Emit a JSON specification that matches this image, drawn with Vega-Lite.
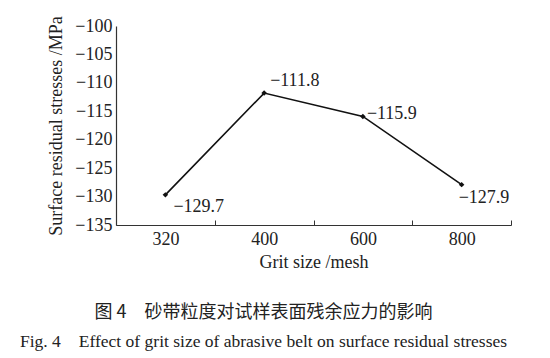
{
  "$schema": "https://vega.github.io/schema/vega-lite/v6.json",
  "width": 395,
  "height": 199,
  "autosize": {"type": "none"},
  "padding": {"left": 116, "top": 26, "right": 39, "bottom": 133},
  "background": "white",
  "data": {"values": [
    {"grit": "320", "stress": -129.7},
    {"grit": "400", "stress": -111.8},
    {"grit": "600", "stress": -115.9},
    {"grit": "800", "stress": -127.9}
  ]},
  "title": {
    "text": "图 4　砂带粒度对试样表面残余应力的影响",
    "subtitle": "Fig. 4　Effect of grit size of abrasive belt on surface residual stresses",
    "orient": "bottom",
    "anchor": "middle",
    "dx": -50,
    "offset": 33,
    "font": "Noto Sans CJK SC",
    "fontSize": 18,
    "fontWeight": "normal",
    "color": "#222",
    "subtitleFont": "Liberation Serif",
    "subtitleFontSize": 17.5,
    "subtitleColor": "#222",
    "subtitlePadding": 11
  },
  "config": {
    "view": {"stroke": null},
    "font": "Liberation Serif",
    "axis": {
      "labelFont": "Liberation Serif",
      "titleFont": "Liberation Serif",
      "labelFontSize": 18,
      "titleFontSize": 18,
      "titleFontWeight": "normal",
      "labelColor": "#222",
      "titleColor": "#222",
      "domainColor": "#333",
      "tickColor": "#333",
      "grid": false
    },
    "text": {"font": "Liberation Serif"}
  },
  "encoding": {
    "x": {
      "field": "grit",
      "type": "ordinal",
      "sort": ["320", "400", "600", "800"],
      "scale": {"type": "band", "paddingInner": 0, "paddingOuter": 0},
      "axis": {
        "title": "Grit size /mesh",
        "labelAngle": 0,
        "tickBand": "extent",
        "tickSize": -5,
        "labelPadding": 10,
        "titlePadding": 5,
        "domainWidth": 1.2
      }
    },
    "y": {
      "field": "stress",
      "type": "quantitative",
      "scale": {"domain": [-135, -100], "nice": false, "zero": false},
      "axis": {
        "title": "Surface residual stresses /MPa",
        "values": [-135, -130, -125, -120, -115, -110, -105, -100],
        "ticks": false,
        "labelPadding": 4,
        "titlePadding": 9,
        "domainWidth": 1.2
      }
    }
  },
  "layer": [
    {"mark": {"type": "line", "color": "#111", "strokeWidth": 1.6}},
    {"mark": {"type": "point", "shape": "diamond", "filled": true, "color": "#111", "size": 30, "opacity": 1}},
    {
      "transform": [{"filter": "datum.grit == '320'"}],
      "mark": {"type": "text", "align": "left", "baseline": "middle", "dx": 8, "dy": 12, "fontSize": 18, "color": "#222"},
      "encoding": {"text": {"field": "stress", "type": "quantitative", "format": ".1f"}}
    },
    {
      "transform": [{"filter": "datum.grit == '400'"}],
      "mark": {"type": "text", "align": "left", "baseline": "middle", "dx": 6, "dy": -12, "fontSize": 18, "color": "#222"},
      "encoding": {"text": {"field": "stress", "type": "quantitative", "format": ".1f"}}
    },
    {
      "transform": [{"filter": "datum.grit == '600'"}],
      "mark": {"type": "text", "align": "left", "baseline": "middle", "dx": 4, "dy": -2, "fontSize": 18, "color": "#222"},
      "encoding": {"text": {"field": "stress", "type": "quantitative", "format": ".1f"}}
    },
    {
      "transform": [{"filter": "datum.grit == '800'"}],
      "mark": {"type": "text", "align": "left", "baseline": "middle", "dx": -3, "dy": 13, "fontSize": 18, "color": "#222"},
      "encoding": {"text": {"field": "stress", "type": "quantitative", "format": ".1f"}}
    }
  ]
}
